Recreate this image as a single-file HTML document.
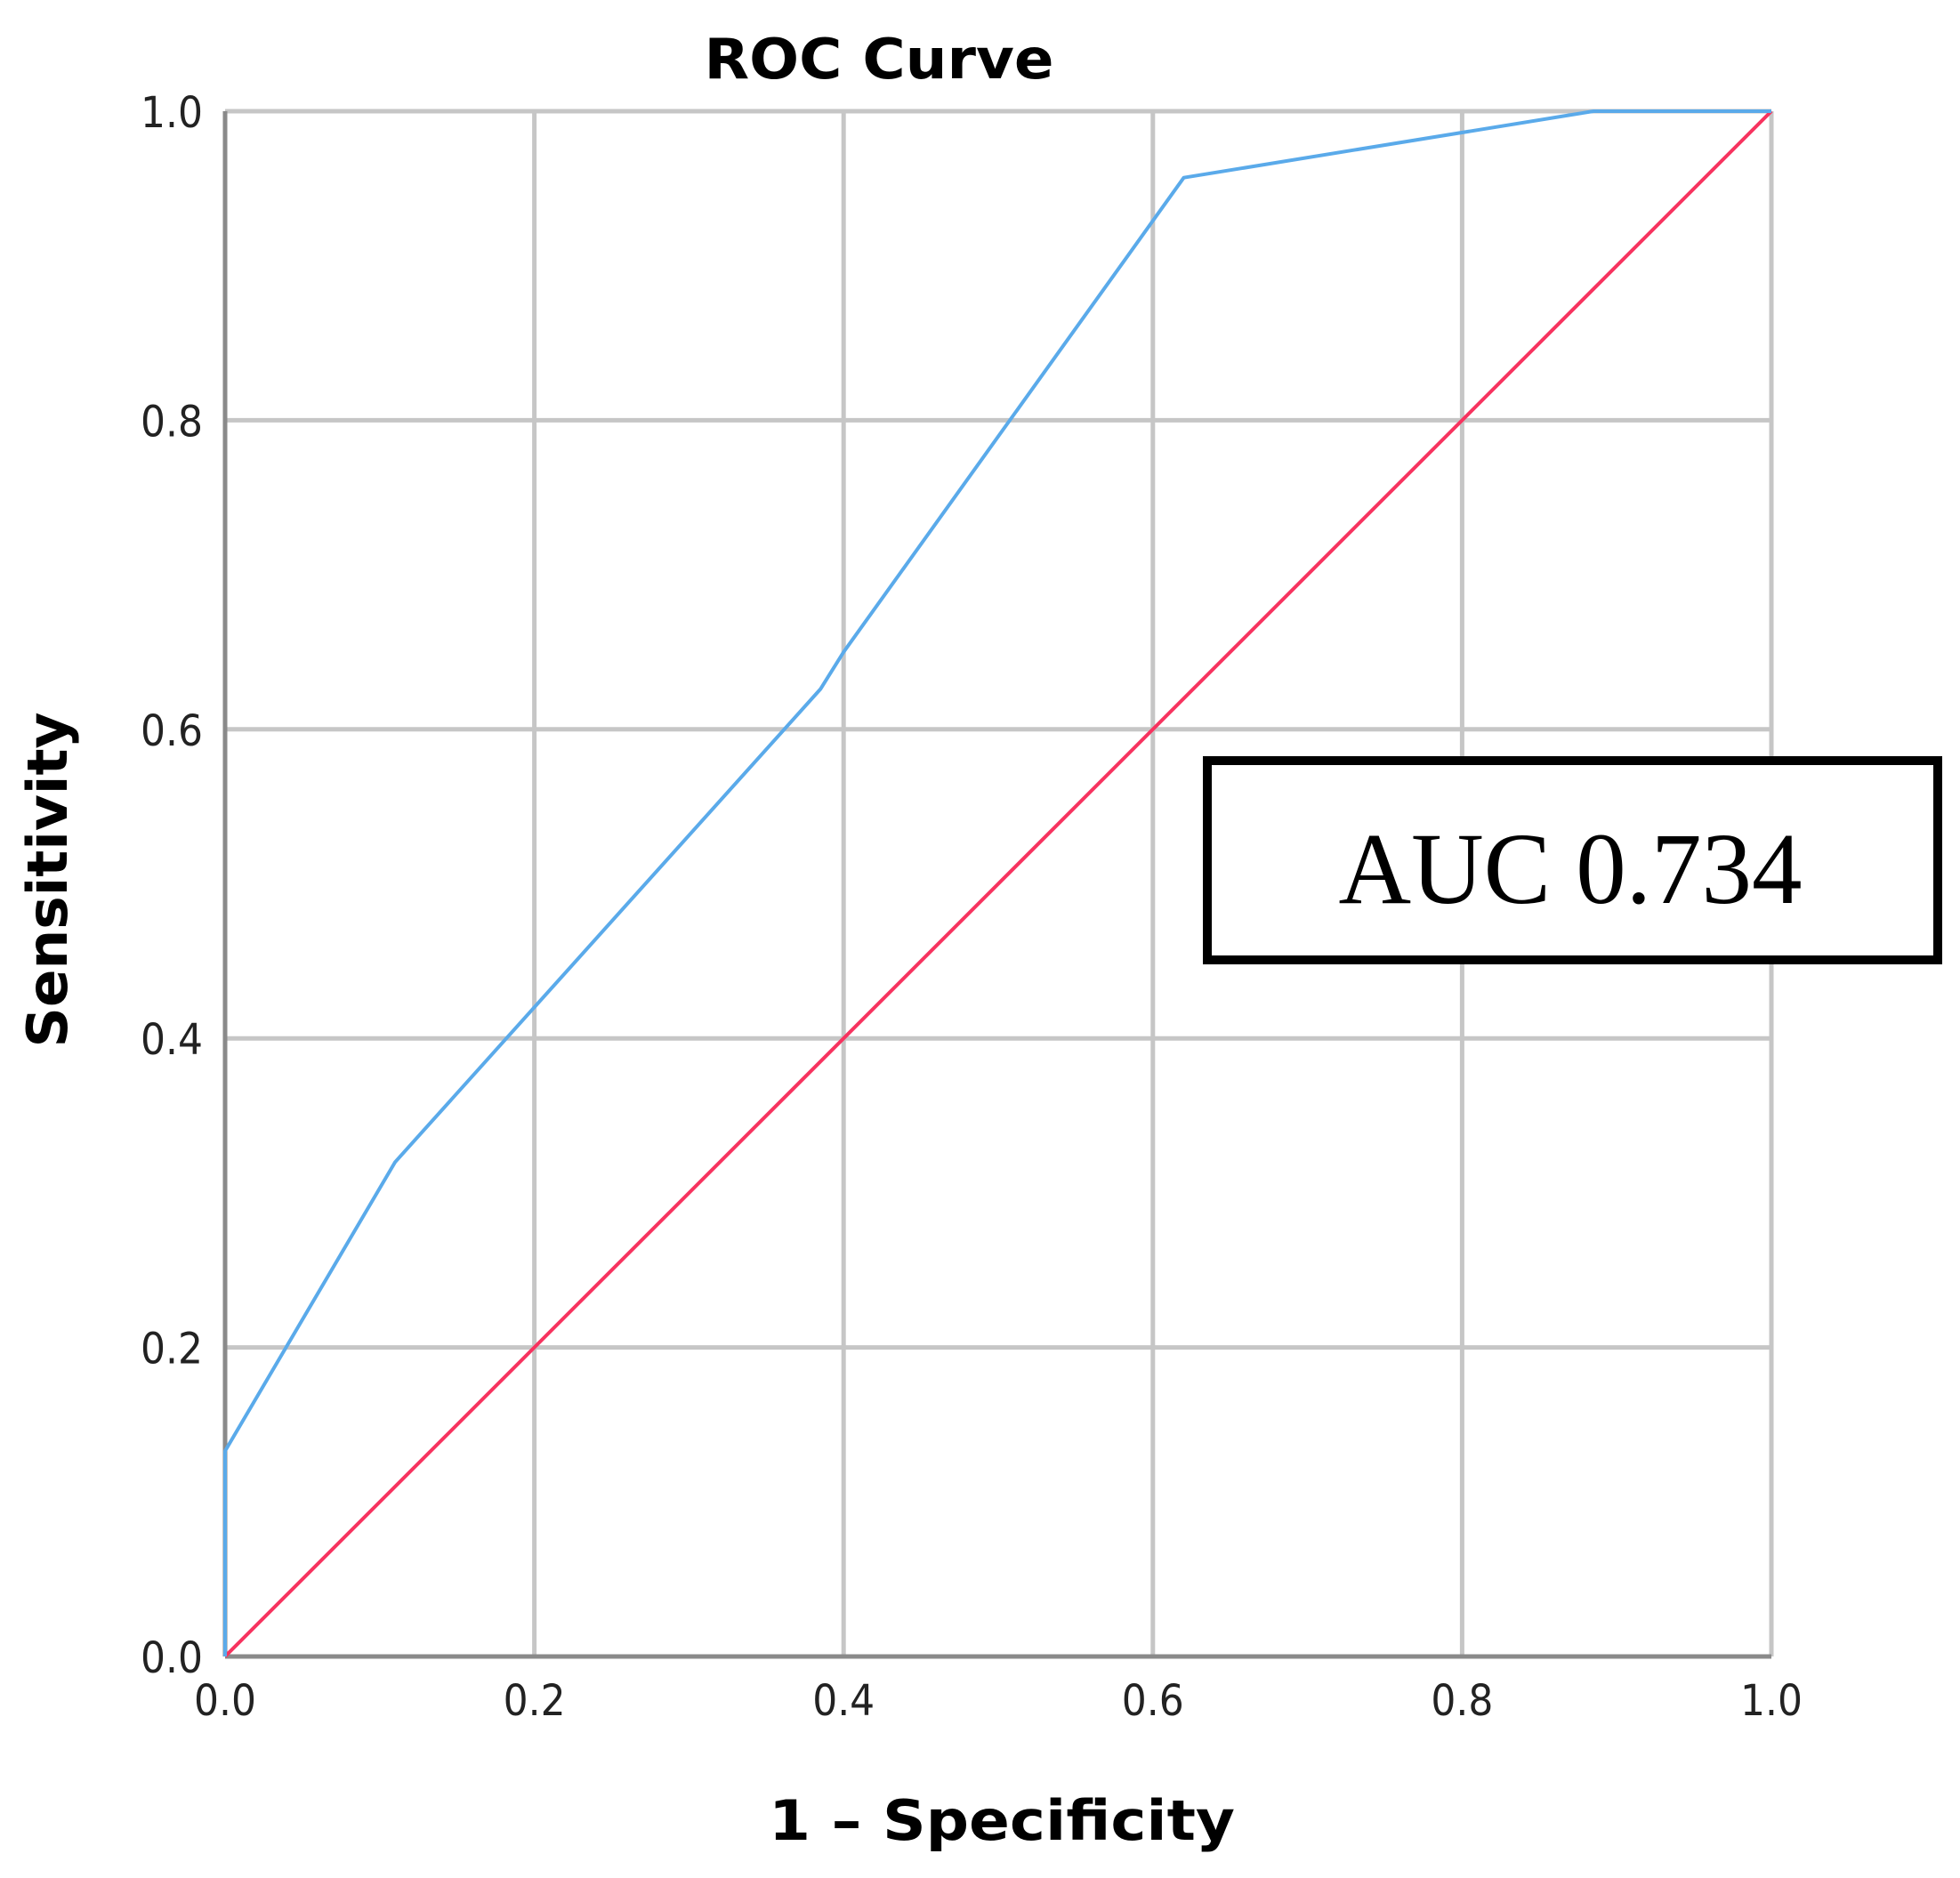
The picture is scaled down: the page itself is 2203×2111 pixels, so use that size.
<!DOCTYPE html>
<html><head><meta charset="utf-8"><style>html,body{margin:0;padding:0;background:#fff}svg{display:block}</style></head>
<body>
<svg id="chart" width="2203" height="2111" viewBox="0 0 2203 2111" xmlns="http://www.w3.org/2000/svg">
<g id="grid"></g>
<g id="axes"></g>
<g id="series"></g>
<g id="labels"></g>
<text x="988" y="88" text-anchor="middle" font-family="'DejaVu Sans','Liberation Sans',sans-serif" font-weight="bold" font-size="62" textLength="393" lengthAdjust="spacingAndGlyphs">ROC Curve</text>
<text x="1126" y="2068" text-anchor="middle" font-family="'DejaVu Sans','Liberation Sans',sans-serif" font-weight="bold" font-size="62" textLength="524" lengthAdjust="spacingAndGlyphs">1 – Specificity</text>
<text transform="translate(75,989) rotate(-90)" x="0" y="0" text-anchor="middle" font-family="'DejaVu Sans','Liberation Sans',sans-serif" font-weight="bold" font-size="62" textLength="377" lengthAdjust="spacingAndGlyphs">Sensitivity</text>
<g>
<rect x="1357" y="855" width="821" height="224" fill="#fff" stroke="#000" stroke-width="10"/>
<text x="1765" y="1015" text-anchor="middle" font-family="'Liberation Serif',serif" font-size="114" textLength="521" lengthAdjust="spacingAndGlyphs">AUC 0.734</text>
</g>
</svg>
<script>
const ticks = [0, 0.2, 0.4, 0.6, 0.8, 1.0];
const tickLabels = ["0.0", "0.2", "0.4", "0.6", "0.8", "1.0"];
const rocFpr = [0, 0, 0.11, 0.385, 0.40, 0.62, 0.885, 1.0];
const rocTpr = [0, 0.133, 0.32, 0.626, 0.65, 0.957, 1.0, 1.0];
const refFpr = [0, 1];
const refTpr = [0, 1];

const L = 253, R = 1991, T = 125, B = 1862;
const xs = v => L + v * (R - L);
const ys = v => B - v * (B - T);
const NS = "http://www.w3.org/2000/svg";
function mk(tag, attrs, parent) {
  const e = document.createElementNS(NS, tag);
  for (const k in attrs) e.setAttribute(k, attrs[k]);
  parent.appendChild(e);
  return e;
}
const grid = document.getElementById('grid');
const axes = document.getElementById('axes');
const series = document.getElementById('series');
const labels = document.getElementById('labels');
ticks.forEach((t, i) => {
  if (t > 0) {
    const v = mk('line', {x1: xs(t), x2: xs(t), y1: T, y2: B, stroke: '#c6c6c6', 'stroke-width': 5}, grid);
    
    
    const h = mk('line', {x1: L, x2: R, y1: ys(t), y2: ys(t), stroke: '#c6c6c6', 'stroke-width': 5}, grid);
    
    
  }
  const xl = mk('text', {x: xs(t), y: 1928, 'text-anchor': 'middle', 'font-family': "'DejaVu Sans','Liberation Sans',sans-serif", 'font-size': 48, fill: '#222', textLength: 70, lengthAdjust: 'spacingAndGlyphs'}, labels);
  xl.textContent = tickLabels[i];
  
  
  const yl = mk('text', {x: 228, y: ys(t) + 18, 'text-anchor': 'end', 'font-family': "'DejaVu Sans','Liberation Sans',sans-serif", 'font-size': 48, fill: '#222', textLength: 70, lengthAdjust: 'spacingAndGlyphs'}, labels);
  yl.textContent = tickLabels[i];
  
  
});
const ax = mk('line', {x1: L, x2: R, y1: B, y2: B, stroke: '#8a8a8a', 'stroke-width': 5}, axes);


const ay = mk('line', {x1: L, x2: L, y1: T, y2: B, stroke: '#8a8a8a', 'stroke-width': 5}, axes);



const refPts = refFpr.map((v, i) => xs(v) + ',' + ys(refTpr[i])).join(' ');
const ref = mk('polyline', {points: refPts, fill: 'none', stroke: '#f7335f', 'stroke-width': 4}, series);


const rocPts = rocFpr.map((v, i) => xs(v) + ',' + ys(rocTpr[i])).join(' ');
const roc = mk('polyline', {points: rocPts, fill: 'none', stroke: '#5aaaea', 'stroke-width': 4, 'stroke-linejoin': 'round'}, series);


</script>
</body></html>
